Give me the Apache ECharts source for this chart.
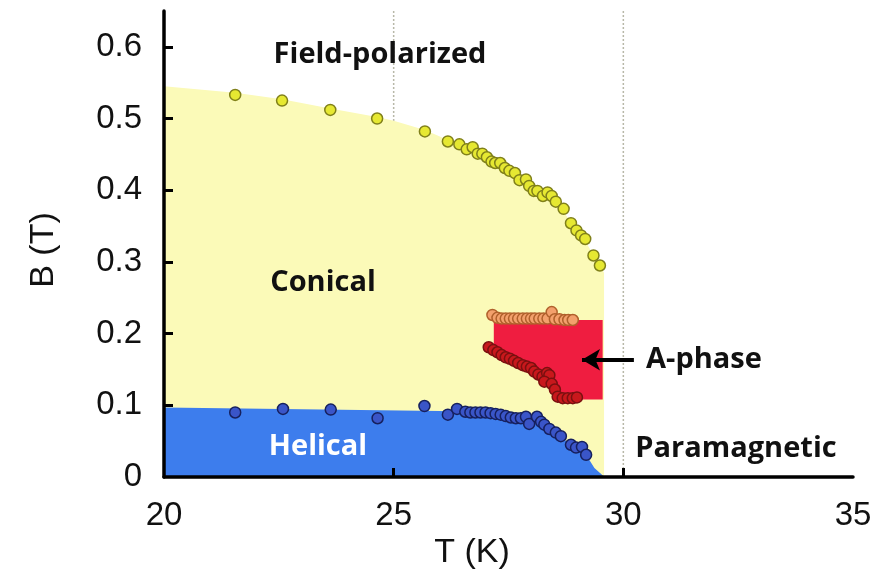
<!DOCTYPE html>
<html>
<head>
<meta charset="utf-8">
<script src="https://cdn.jsdelivr.net/npm/echarts@6/dist/echarts.min.js"></script>
<style>
  html, body { margin: 0; padding: 0; background: #fff; }
  #chart { width: 890px; height: 580px; }
</style>
</head>
<body>
<div id="chart"></div>
<script>
// ticks
const xTickValues = [25, 30];
const yTickValues = [0.1, 0.2, 0.3, 0.4, 0.5, 0.6];
const yLabelValues = [0, 0.1, 0.2, 0.3, 0.4, 0.5, 0.6];
const guideTemps = [25, 30];

// phase boundaries (T, B)
const conicalEdge = [[20, 0.545], [21.55, 0.536], [22.57, 0.527], [23.62, 0.514], [24.64, 0.502], [25.0, 0.497],
  [25.68, 0.484], [26.18, 0.470], [26.6, 0.458], [27.1, 0.442], [27.6, 0.424], [28.1, 0.402], [28.5, 0.386],
  [28.86, 0.356], [29.1, 0.336], [29.35, 0.31], [29.58, 0.285]];
const helicalEdge = [[20, 0.097], [26, 0.092], [27.0, 0.09], [27.5, 0.086], [28.0, 0.081], [28.4, 0.067],
  [28.8, 0.048], [29.2, 0.03], [29.37, 0.0125], [29.59, 0]];
const aPhaseEdge = [[27.18, 0.219], [29.55, 0.219], [29.55, 0.108], [28.55, 0.108], [28.45, 0.128],
  [28.2, 0.14], [27.9, 0.152], [27.18, 0.176]];

// measured points
const fieldPolarizedPts = [[21.55, 0.533], [22.57, 0.525], [23.62, 0.512], [24.64, 0.500], [25.68, 0.482],
  [26.18, 0.468], [26.43, 0.464], [26.59, 0.457], [26.72, 0.460], [26.83, 0.451], [26.93, 0.451], [27.03, 0.446],
  [27.13, 0.440], [27.21, 0.438], [27.32, 0.438], [27.42, 0.431], [27.52, 0.427], [27.64, 0.424], [27.74, 0.414],
  [27.88, 0.415], [27.95, 0.406], [28.05, 0.399], [28.13, 0.399], [28.25, 0.392], [28.35, 0.397], [28.44, 0.392],
  [28.53, 0.384], [28.70, 0.374], [28.86, 0.354], [28.98, 0.344], [29.08, 0.337], [29.17, 0.332], [29.35, 0.309],
  [29.49, 0.295]];
const aPhaseUpperPts = [[27.15, 0.226], [27.26, 0.222], [27.35, 0.221], [27.44, 0.221], [27.53, 0.221],
  [27.62, 0.221], [27.71, 0.221], [27.81, 0.221], [27.90, 0.221], [27.99, 0.221], [28.07, 0.221], [28.17, 0.221],
  [28.26, 0.221], [28.35, 0.221], [28.44, 0.230], [28.51, 0.220], [28.61, 0.220], [28.72, 0.219], [28.80, 0.219],
  [28.90, 0.219]];
const aPhaseLowerPts = [[27.07, 0.181], [27.17, 0.177], [27.26, 0.174], [27.35, 0.170], [27.44, 0.167],
  [27.53, 0.165], [27.62, 0.162], [27.71, 0.159], [27.81, 0.156], [27.90, 0.154], [27.99, 0.152], [28.06, 0.147],
  [28.15, 0.143], [28.24, 0.140], [28.34, 0.145], [28.39, 0.142], [28.28, 0.133], [28.44, 0.130], [28.51, 0.122],
  [28.57, 0.112], [28.68, 0.110], [28.79, 0.110], [28.90, 0.110], [28.99, 0.111]];
const helicalPts = [[21.55, 0.090], [22.59, 0.095], [23.63, 0.094], [24.65, 0.082], [25.67, 0.099],
  [26.18, 0.087], [26.38, 0.095], [26.56, 0.091], [26.67, 0.090], [26.78, 0.090], [26.89, 0.090], [27.00, 0.090],
  [27.11, 0.089], [27.22, 0.088], [27.33, 0.087], [27.44, 0.085], [27.55, 0.083], [27.66, 0.082], [27.77, 0.082],
  [27.88, 0.084], [27.95, 0.074], [28.12, 0.084], [28.21, 0.077], [28.28, 0.073], [28.39, 0.067], [28.53, 0.062],
  [28.64, 0.057], [28.86, 0.045], [28.97, 0.041], [29.10, 0.042], [29.19, 0.031]];

// arrow pointing at the A-phase pocket
const arrowFrom = [30.23, 0.1636];
const arrowTo = [29.1, 0.1636];

const chart = echarts.init(document.getElementById('chart'));

function areaSeries(data, color, z) {
  return {
    type: 'line', data: data, z: z, silent: true,
    symbol: 'none', lineStyle: { width: 0, opacity: 0 },
    areaStyle: { color: color, opacity: 1, origin: 'start' }
  };
}

function dotSeries(data, fill, border, z) {
  return {
    type: 'scatter', data: data, z: z, symbol: 'circle', symbolSize: 11,
    itemStyle: { color: fill, borderColor: border, borderWidth: 1.5, opacity: 1 }
  };
}

const guideSeries = guideTemps.map(t => ({
  type: 'line', data: [[t, 0], [t, 0.65]], z: 1, silent: true, symbol: 'none',
  lineStyle: { color: '#b8b8a8', width: 1.5, type: [2, 2] }
}));

const lowerDots = dotSeries(aPhaseLowerPts, '#c8181c', '#7a1010', 6);
lowerDots.markLine = {
  silent: true, z: 8,
  symbol: ['none', 'arrow'], symbolSize: [16, 18],
  label: { show: false },
  lineStyle: { color: '#000', width: 4, type: 'solid' },
  data: [[{ coord: arrowFrom }, { coord: arrowTo }]]
};

const labelFont = 'bold 29px "Open Sans"';

const option = {
  animation: false,
  grid: { left: 164, right: 37, top: 11, bottom: 103 },
  xAxis: {
    type: 'value', min: 20, max: 35, interval: 5, z: 10,
    axisLine: { show: true, onZero: false, lineStyle: { color: '#000', width: 3.5 } },
    axisTick: { show: true, inside: true, length: 9, customValues: xTickValues, lineStyle: { color: '#000', width: 3 } },
    axisLabel: { fontSize: 33, color: '#111', margin: 22, fontFamily: 'Liberation Sans' },
    splitLine: { show: false }
  },
  yAxis: {
    type: 'value', min: 0, max: 0.65, interval: 0.1, z: 10,
    axisLine: { show: true, onZero: false, lineStyle: { color: '#000', width: 3.5 } },
    axisTick: { show: true, inside: true, length: 9, customValues: yTickValues, lineStyle: { color: '#000', width: 3 } },
    axisLabel: {
      fontSize: 33, color: '#111', margin: 22, fontFamily: 'Liberation Sans',
      customValues: yLabelValues,
      formatter: v => (v === 0 ? '0' : v.toFixed(1))
    },
    splitLine: { show: false }
  },
  graphic: [
    { type: 'text', x: 380, y: 55, z: 20, style: { text: 'Field-polarized', font: labelFont, fill: '#111', align: 'center', verticalAlign: 'middle' } },
    { type: 'text', x: 323, y: 283, z: 20, style: { text: 'Conical', font: labelFont, fill: '#111', align: 'center', verticalAlign: 'middle' } },
    { type: 'text', x: 318, y: 447, z: 20, style: { text: 'Helical', font: labelFont, fill: '#fff', align: 'center', verticalAlign: 'middle' } },
    { type: 'text', x: 736, y: 449, z: 20, style: { text: 'Paramagnetic', font: labelFont, fill: '#111', align: 'center', verticalAlign: 'middle' } },
    { type: 'text', x: 704, y: 360, z: 20, style: { text: 'A-phase', font: labelFont, fill: '#111', align: 'center', verticalAlign: 'middle' } },
    { type: 'text', x: 472, y: 553, z: 20, style: { text: 'T (K)', font: '34px "Liberation Sans"', fill: '#111', align: 'center', verticalAlign: 'middle' } },
    { type: 'text', x: 44, y: 250, z: 20, rotation: Math.PI / 2, style: { text: 'B (T)', font: '34px "Liberation Sans"', fill: '#111', align: 'center', verticalAlign: 'middle' } }
  ],
  series: [
    ...guideSeries,
    areaSeries(conicalEdge, '#fbfab8', 2),
    areaSeries(helicalEdge, '#3d7ded', 3),
    {
      type: 'custom', z: 4, silent: true, data: [0],
      renderItem: (params, api) => ({
        type: 'polygon',
        shape: { points: aPhaseEdge.map(p => api.coord(p)) },
        style: { fill: '#ef1d40' }
      })
    },
    dotSeries(fieldPolarizedPts, '#e6e832', '#80801a', 5),
    dotSeries(aPhaseUpperPts, '#f3a06c', '#b0602c', 6),
    lowerDots,
    dotSeries(helicalPts, '#3a55c8', '#16205e', 5)
  ]
};

chart.setOption(option);
</script>
</body>
</html>
